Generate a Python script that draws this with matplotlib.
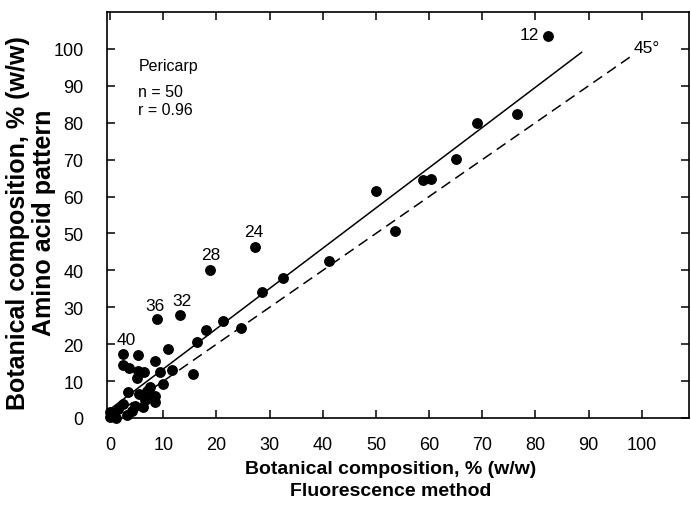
import numpy as np
import matplotlib.pyplot as plt

plt.rcParams['font.family'] = ['Liberation Sans', 'DejaVu Sans']

# Fluorescence method (x) vs amino acid pattern (y), % (w/w)
fluor = [82.3, 76.5, 69.1, 65.0, 60.3, 58.8, 50.0, 53.6, 41.2, 32.5,
         28.5, 27.3, 18.8, 24.6, 21.3, 18.0, 16.4, 13.1, 15.5, 8.9,
         10.9, 2.5, 5.2, 8.4, 2.5, 3.6, 5.3, 6.4, 5.1, 9.4,
         11.7, 10.0, 7.5, 8.4, 3.4, 6.9, 7.5, 8.4, 6.2, 4.7,
         4.1, 2.5, 1.5, 0.6, 0.0, 0.0, 3.1, 6.5, 5.5, 1.0]
amino = [103.6, 82.4, 79.9, 70.2, 64.8, 64.6, 61.6, 50.7, 42.5, 37.9,
         34.1, 46.4, 40.2, 24.3, 26.3, 23.9, 20.5, 27.9, 11.9, 26.8,
         18.7, 17.3, 17.2, 15.5, 14.4, 13.5, 12.8, 12.4, 10.8, 12.5,
         12.9, 9.2, 8.4, 6.0, 7.0, 7.4, 5.6, 4.3, 2.9, 3.3,
         2.0, 3.8, 2.4, 1.1, 0.3, 1.5, 0.8, 5.0, 6.5, 0.0]

# numbered samples
sample_ids = ['12', '24', '28', '32', '36', '40']
sample_x = [82.3, 27.3, 18.8, 13.1, 8.9, 2.5]
sample_y = [103.6, 46.4, 40.2, 27.9, 26.8, 17.3]

# regression line and 45 degree line
reg_slope, reg_icpt = 1.09, 2.4
reg_xmax = 88.7
diag_xmax = 98.0

ticks = list(range(0, 101, 10))

fig = plt.figure(figsize=(6.91, 5.10), dpi=100)
ax = fig.add_axes([107/691, 1-419/510, (689-107)/691, (419-13)/510])

ax.plot(fluor, amino, 'o', color='black', ms=6.8, clip_on=False, zorder=3)

xr = np.array([0, reg_xmax])
ax.plot(xr, reg_icpt + reg_slope*xr, color='black', lw=1.1)
xd = np.array([0, diag_xmax])
ax.plot(xd, xd, color='black', lw=1.1, linestyle=(0, (7, 4)))
ax.text(diag_xmax + 0.5, diag_xmax + 2.3, '45°', fontsize=12.5, ha='left', va='center')

# sample labels sit above / left of their dot
offsets = {'12': (-3.5, 0.4), '24': (-0.2, 4.2), '28': (0.2, 4.0),
           '32': (0.4, 3.9), '36': (-0.5, 3.6), '40': (0.6, 3.9)}
for sid, sx, sy in zip(sample_ids, sample_x, sample_y):
    dx, dy = offsets[sid]
    ax.text(sx + dx, sy + dy, sid, fontsize=12.5, ha='center', va='center')

ax.text(5.3, 95.5, 'Pericarp', fontsize=11.5, va='center')
ax.text(5.3, 88.5, 'n = 50', fontsize=11.5, va='center')
ax.text(5.3, 83.7, 'r = 0.96', fontsize=11.5, va='center')

ax.set_xlim(-0.6, 108.9)
ax.set_ylim(0, 110)
ax.set_xticks(ticks)
ax.set_yticks(ticks)
ax.tick_params(direction='in', length=6, width=1.1, labelsize=13,
               top=True, right=True)
ax.tick_params(axis='x', pad=13)
ax.tick_params(axis='y', pad=17)
for s in ax.spines.values():
    s.set_linewidth(1.2)

fig.text(391/691, 1-470/510, 'Botanical composition, % (w/w)', fontsize=14,
         fontweight='bold', ha='center', va='center')
fig.text(391/691, 1-492/510, 'Fluorescence method', fontsize=14,
         fontweight='bold', ha='center', va='center')
fig.text(18/691, 1-223/510, 'Botanical composition, % (w/w)', fontsize=18,
         fontweight='bold', ha='center', va='center', rotation=90)
fig.text(44/691, 1-223/510, 'Amino acid pattern', fontsize=18,
         fontweight='bold', ha='center', va='center', rotation=90)

fig.savefig('out.png', dpi=100)
